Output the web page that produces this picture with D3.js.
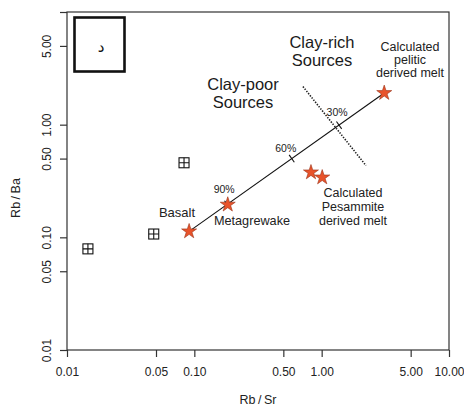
<!DOCTYPE html>
<html>
<head>
<meta charset="utf-8">
<script src="https://cdn.jsdelivr.net/npm/d3@7"></script>
<style>
  html, body { margin: 0; padding: 0; background: #fff; }
  svg { display: block; font-family: "Liberation Sans", Arial, sans-serif; }
</style>
</head>
<body>
<svg id="chart" width="464" height="406"></svg>
<script>
// Axis ticks (log scales)
const xTicks = [0.01, 0.05, 0.10, 0.50, 1.00, 5.00, 10.00];
const xTickLabels = ["0.01", "0.05", "0.10", "0.50", "1.00", "5.00", "10.00"];
const yTicks = [0.01, 0.05, 0.10, 0.50, 1.00, 5.00, 10.00];
const yTickLabels = ["0.01", "0.05", "0.10", "0.50", "1.00", "5.00", ""];

// Measured samples (open squares)
const sampleRbSr = [0.0146, 0.048, 0.083];
const sampleRbBa = [0.079, 0.107, 0.459];

// End-members and calculated melts (stars)
const starNames = ["Basalt", "Metagrewake", "Pesammite A", "Pesammite B", "Pelitic"];
const starRbSr = [0.091, 0.183, 0.824, 1.01, 3.10];
const starRbBa = [0.113, 0.195, 0.377, 0.340, 1.91];

// Mixing line basalt -> pelitic melt, with percentage marks
const mixRbSr = [0.091, 3.10];
const mixRbBa = [0.113, 1.91];
const mixTickLabels = ["90%", "60%", "30%"];
const mixTickRbSr = [0.181, 0.582, 1.37];
const mixTickRbBa = [0.196, 0.50, 0.99];

// Dotted divider between clay-poor and clay-rich sources
const dividerRbSr = [0.713, 2.23];
const dividerRbBa = [2.18, 0.433];

const svg = d3.select("#chart");
const mLeft = 67, mRight = 449, mTop = 12, mBottom = 350;

const x = d3.scaleLog().domain([0.01, 10]).range([mLeft, mRight]);
const y = d3.scaleLog().domain([0.01, 10]).range([mBottom, mTop]);

const axisColor = "#333";

// Frame: left/bottom axes + top/right box lines
const xAxis = d3.axisBottom(x).tickValues(xTicks)
  .tickFormat((d, i) => xTickLabels[i]).tickSize(7).tickSizeOuter(0);
const gx = svg.append("g").attr("transform", `translate(0,${mBottom})`).call(xAxis);
gx.select(".domain").remove();
gx.selectAll(".tick line").attr("stroke", axisColor).attr("stroke-width", 1.2);
gx.selectAll(".tick text").attr("font-size", 12).attr("fill", "#222")
  .attr("font-family", "Liberation Sans, Arial, sans-serif").attr("y", 17);

const yAxis = d3.axisLeft(y).tickValues(yTicks)
  .tickFormat((d, i) => yTickLabels[i]).tickSize(7).tickSizeOuter(0);
const gy = svg.append("g").attr("transform", `translate(${mLeft},0)`).call(yAxis);
gy.select(".domain").remove();
gy.selectAll(".tick line").attr("stroke", axisColor).attr("stroke-width", 1.2);
gy.selectAll(".tick text").attr("font-size", 12).attr("fill", "#222")
  .attr("font-family", "Liberation Sans, Arial, sans-serif")
  .attr("x", 0).attr("dy", 0)
  .attr("text-anchor", "middle")
  .attr("transform", "translate(-16,0) rotate(-90)");

svg.append("rect")
  .attr("x", mLeft).attr("y", mTop)
  .attr("width", mRight - mLeft).attr("height", mBottom - mTop)
  .attr("fill", "none").attr("stroke", axisColor).attr("stroke-width", 1.2);

// Axis titles
svg.append("text")
  .attr("x", (mLeft + mRight) / 2).attr("y", 404)
  .attr("text-anchor", "middle").attr("font-size", 12.5).attr("fill", "#222")
  .text("Rb\u2009/\u2009Sr");
svg.append("text")
  .attr("transform", "translate(20,198) rotate(-90)")
  .attr("text-anchor", "middle").attr("font-size", 12.5).attr("fill", "#222")
  .text("Rb\u2009/\u2009Ba");

// Panel letter box
svg.append("rect")
  .attr("x", 74.5).attr("y", 17.5).attr("width", 50).attr("height", 54)
  .attr("fill", "none").attr("stroke", "#111").attr("stroke-width", 2.6);
svg.append("text")
  .attr("x", 101).attr("y", 52)
  .attr("text-anchor", "middle").attr("font-size", 15).attr("fill", "#111")
  .attr("font-family", "DejaVu Sans, sans-serif")
  .text("د");

// Dotted divider
svg.append("line")
  .attr("x1", x(dividerRbSr[0])).attr("y1", y(dividerRbBa[0]))
  .attr("x2", x(dividerRbSr[1])).attr("y2", y(dividerRbBa[1]))
  .attr("stroke", "#222").attr("stroke-width", 1.6)
  .attr("stroke-dasharray", "1.4,1.4");

// Mixing line
const mx1 = x(mixRbSr[0]), my1 = y(mixRbBa[0]);
const mx2 = x(mixRbSr[1]), my2 = y(mixRbBa[1]);
svg.append("line")
  .attr("x1", mx1).attr("y1", my1).attr("x2", mx2).attr("y2", my2)
  .attr("stroke", "#111").attr("stroke-width", 1.1);

// Percentage marks perpendicular to the mixing line
const len = Math.hypot(mx2 - mx1, my2 - my1);
const nx = -(my2 - my1) / len, ny = (mx2 - mx1) / len;
const half = 4.5;
svg.append("g").selectAll("line")
  .data(mixTickLabels)
  .join("line")
  .attr("x1", (d, i) => x(mixTickRbSr[i]) - nx * half)
  .attr("y1", (d, i) => y(mixTickRbBa[i]) - ny * half)
  .attr("x2", (d, i) => x(mixTickRbSr[i]) + nx * half)
  .attr("y2", (d, i) => y(mixTickRbBa[i]) + ny * half)
  .attr("stroke", "#111").attr("stroke-width", 1.1);

const pctOffsets = [[-3, -11], [-6, -7], [-2, -9]];
svg.append("g").selectAll("text")
  .data(mixTickLabels)
  .join("text")
  .attr("x", (d, i) => x(mixTickRbSr[i]) + pctOffsets[i][0])
  .attr("y", (d, i) => y(mixTickRbBa[i]) + pctOffsets[i][1])
  .attr("text-anchor", "middle").attr("font-size", 10.5).attr("fill", "#222")
  .text(d => d);

// Sample symbols: open square with a cross
const sq = 10;
const samples = svg.append("g").selectAll("g")
  .data(sampleRbSr)
  .join("g")
  .attr("transform", (d, i) => `translate(${x(d)},${y(sampleRbBa[i])})`);
samples.append("rect")
  .attr("x", -sq / 2).attr("y", -sq / 2).attr("width", sq).attr("height", sq)
  .attr("fill", "#fff").attr("stroke", "#111").attr("stroke-width", 1.1);
samples.append("path")
  .attr("d", `M${-sq / 2},0H${sq / 2}M0,${-sq / 2}V${sq / 2}`)
  .attr("stroke", "#111").attr("stroke-width", 1.1);

// Stars
const star = d3.symbol().type(d3.symbolStar).size(70);
svg.append("g").selectAll("path")
  .data(starNames)
  .join("path")
  .attr("d", star)
  .attr("transform", (d, i) => `translate(${x(starRbSr[i])},${y(starRbBa[i])})`)
  .attr("fill", "#E8532B").attr("stroke", "#9a3318").attr("stroke-width", 0.6);

// Annotations
function label(lines, cx, baseY, size, lh = 14, color = "#222") {
  const t = svg.append("text")
    .attr("text-anchor", "middle").attr("font-size", size).attr("fill", color);
  lines.forEach((s, i) => {
    t.append("tspan").attr("x", cx).attr("y", baseY + i * lh).text(s);
  });
}
label(["Clay-rich", "Sources"], 322, 48, 16.5, 18, "#1a1a1a");
label(["Clay-poor", "Sources"], 243, 90, 16.5, 18, "#1a1a1a");
label(["Calculated", "pelitic", "derived melt"], 410, 51, 12.5, 13.2);
label(["Calculated", "Pesammite", "derived melt"], 353, 197, 12.5, 14.2);
label(["Basalt"], 177, 217, 13);
label(["Metagrewake"], 252, 225, 12.7);
</script>
</body>
</html>
